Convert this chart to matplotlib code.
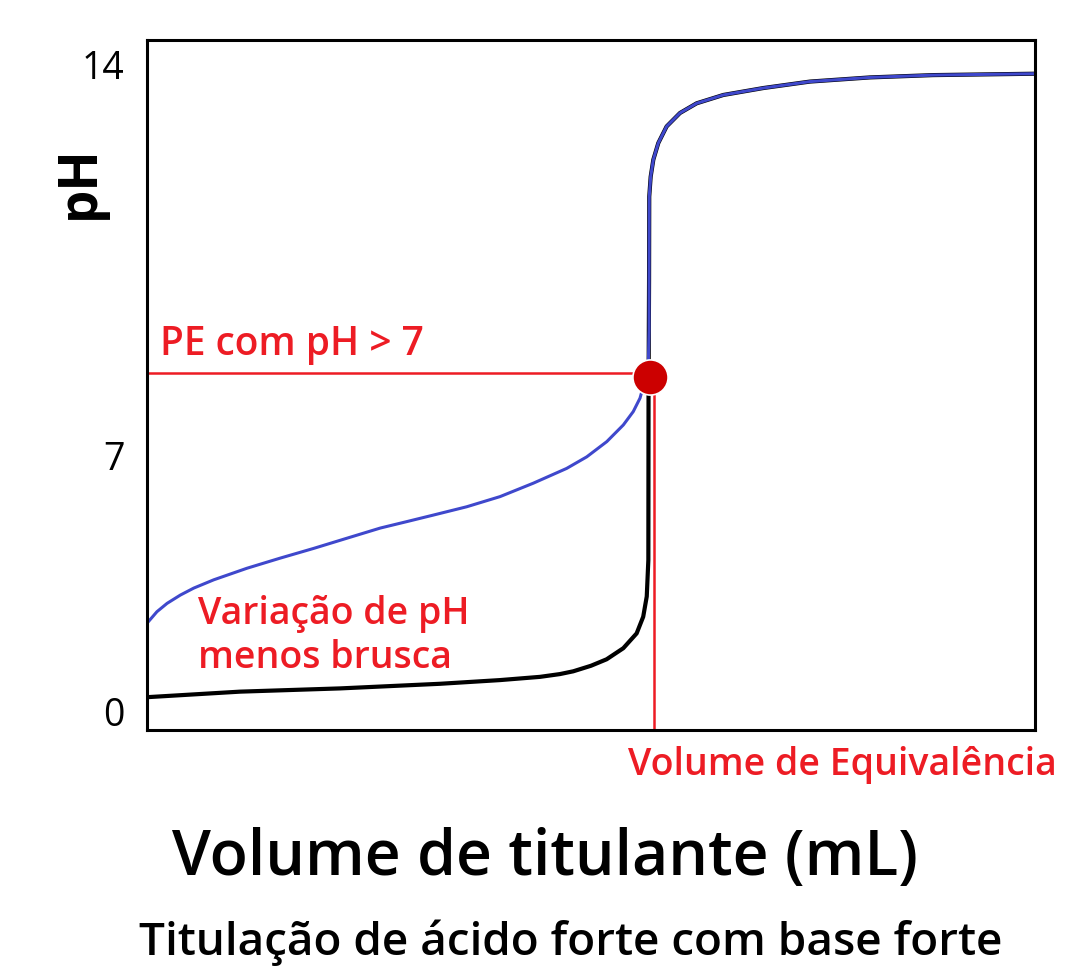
import matplotlib.pyplot as plt

plt.rcParams['font.family'] = ['Open Sans', 'DejaVu Sans']

# curvas (mL, pH)
vol_black = [0, 5.24, 10.87, 16.50, 19.88, 22.13, 23.25, 24.00, 25.00, 25.88,
             26.82, 27.57, 27.94, 28.14, 28.23, 28.24, 28.27, 28.28, 28.36,
             28.51, 28.79, 29.26, 30.01, 30.95, 32.45, 34.70, 37.33, 40.71,
             44.26, 50]
ph_black = [0.32, 0.44, 0.51, 0.61, 0.69, 0.76, 0.82, 0.88, 1.00, 1.14,
            1.38, 1.70, 2.06, 2.50, 3.29, 6.86, 9.35, 11.15, 11.58,
            11.95, 12.31, 12.67, 12.96, 13.17, 13.35, 13.50, 13.64, 13.73,
            13.78, 13.81]

vol_blue = [0, 0.56, 1.13, 1.88, 2.63, 3.76, 5.63, 7.51, 9.39, 11.26, 13.14,
            14.64, 16.12, 18.00, 19.88, 21.75, 23.63, 24.76, 25.89, 26.82,
            27.38, 27.76, 28.04, 28.23, 28.27, 28.27, 28.28, 28.36, 28.51,
            28.79, 29.26, 30.01, 30.95, 32.45, 34.70, 37.33, 40.71, 44.26, 50]
ph_blue = [1.92, 2.17, 2.35, 2.53, 2.68, 2.86, 3.11, 3.33, 3.54, 3.76, 3.98,
           4.12, 4.26, 4.44, 4.66, 4.95, 5.27, 5.52, 5.85, 6.21,
           6.50, 6.79, 7.18, 7.55, 8.27, 9.35, 11.15, 11.58, 11.95,
           12.31, 12.67, 12.96, 13.17, 13.35, 13.50, 13.64, 13.73, 13.78, 13.81]

pe_vol, pe_ph = 28.32, 7.25
line_ph = 7.34
eq_vol = 28.55
eq_top = 6.92

tick_pos = [0, 5.56, 14]
tick_labels = ['0', '7', '14']

red = '#ED1C24'

fig = plt.figure(figsize=(10.66, 9.8), dpi=100)
ax = fig.add_axes([0.1379, 0.2551, 0.833, 0.7041])

ax.plot(vol_black, ph_black, color='black', lw=3.0)
ax.plot(vol_blue, ph_blue, color='#3F48CC', lw=2.2)

ax.plot([0, pe_vol], [line_ph, line_ph], color=red, lw=1.8)
ax.plot([eq_vol, eq_vol], [-0.39, eq_top], color=red, lw=1.8, clip_on=False)
ax.scatter([pe_vol], [pe_ph], s=640, color='#CC0000', edgecolor='white',
           linewidth=1.2, zorder=5)

ax.set_xlim(0, 50)
ax.set_ylim(-0.39, 14.54)
ax.set_xticks([])
ax.set_yticks(tick_pos)
ax.set_yticklabels(tick_labels, fontsize=27)
ax.tick_params(axis='y', length=0, pad=16)
for s in ax.spines.values():
    s.set_linewidth(2.2)

ax.text(0.75, 7.73, 'PE com pH > 7', color=red, fontsize=28, fontweight='semibold',
        va='baseline', ha='left')
ax.text(2.85, 0.95, 'Variação de pH\nmenos brusca', color=red, fontsize=27,
        fontweight='semibold', va='baseline', ha='left', linespacing=1.22)
ax.text(27.1, -1.36, 'Volume de Equivalência', color=red, fontsize=27,
        fontweight='semibold', va='baseline', ha='left', clip_on=False)

fig.text(80 / 1066, 1 - 182 / 980, 'pH', rotation=90, fontsize=38,
         fontweight='bold', ha='center', va='center')
fig.text(545 / 1066, 1 - 858 / 980, 'Volume de titulante (mL)', fontsize=45,
         fontweight='semibold', ha='center', va='center')
fig.text(571 / 1066, 1 - 943 / 980, 'Titulação de ácido forte com base forte',
         fontsize=33, fontweight='semibold', ha='center', va='center')

plt.savefig('out.png', dpi=100)
